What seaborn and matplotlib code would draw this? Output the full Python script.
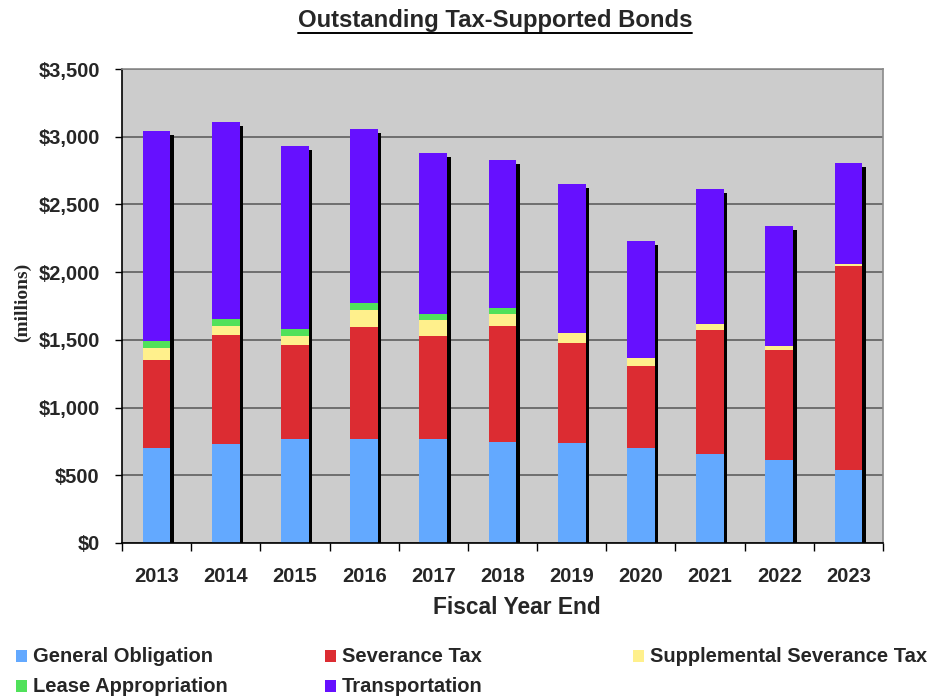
import numpy as np
import pandas as pd
import matplotlib
matplotlib.use("Agg")
import matplotlib.pyplot as plt
import seaborn as sns
from matplotlib.patches import Rectangle
from matplotlib.lines import Line2D
from matplotlib.ticker import FuncFormatter, MultipleLocator, FixedLocator
from matplotlib.transforms import ScaledTranslation

# ---------------- data ($ millions) ----------------
years = ['2013', '2014', '2015', '2016', '2017', '2018', '2019', '2020', '2021', '2022', '2023']
general_obligation = [699, 729, 766, 766, 768, 748, 741, 704, 655, 613, 541]
severance_tax = [654, 805, 696, 829, 763, 857, 736, 601, 920, 814, 1502]
supplemental_severance_tax = [84, 68, 64, 128, 113, 88, 76, 63, 40, 30, 17]
lease_appropriation = [57, 54, 54, 49, 49, 42, 0, 0, 0, 0, 0]
transportation = [1550, 1453, 1351, 1285, 1187, 1093, 1096, 864, 999, 881, 744]

series_names = ['General Obligation', 'Severance Tax', 'Supplemental Severance Tax',
                'Lease Appropriation', 'Transportation']
series_colors = ['#63A9FF', '#DC2C32', '#FFF08C', '#50E15A', '#6610FF']

df = pd.DataFrame({
    'year': years,
    'General Obligation': general_obligation,
    'Severance Tax': severance_tax,
    'Supplemental Severance Tax': supplemental_severance_tax,
    'Lease Appropriation': lease_appropriation,
    'Transportation': transportation,
})
cum = df[series_names].cumsum(axis=1)
totals = cum[series_names[-1]]

# ---------------- figure ----------------
sns.set_style("white")
FONT = ['Liberation Sans', 'DejaVu Sans']
plt.rcParams['font.family'] = FONT

W, H = 933, 696
fig = plt.figure(figsize=(W / 100, H / 100), dpi=100)
ax = fig.add_axes([122 / W, 1 - 543 / H, (883 - 122) / W, (543 - 69) / H])
ax.set_facecolor('#CCCCCC')

BW = 0.40
# shadow bars (total height, offset down-right)
sns.barplot(x=df['year'], y=totals, color='black', width=BW, saturation=1,
            linewidth=0, ax=ax, order=years)
shift = ScaledTranslation(3.5 / 100, -4 / 100, fig.dpi_scale_trans)
for p in list(ax.patches):
    p.set_transform(ax.transData + shift)

# stacked segments, drawn top-down so lower segments overlay
for name, col in reversed(list(zip(series_names, series_colors))):
    sns.barplot(x=df['year'], y=cum[name], color=col, width=BW, saturation=1,
                linewidth=0, ax=ax, order=years)

ax.set_xlim(-0.5, len(years) - 0.5)
ax.set_ylim(0, 3500)
ax.yaxis.set_major_locator(MultipleLocator(500))
ax.yaxis.set_major_formatter(FuncFormatter(lambda v, p: f"${v:,.0f}"))
ax.set_axisbelow(True)
ax.grid(axis='y', color='#5E5E5E', linewidth=1.2)
ax.grid(axis='x', visible=False)

for s in ['top', 'right']:
    ax.spines[s].set_color('#8A8A8A')
    ax.spines[s].set_linewidth(1.2)
ax.spines['left'].set_color('black')
ax.spines['left'].set_linewidth(1.2)
ax.spines['bottom'].set_color('black')
ax.spines['bottom'].set_linewidth(1.2)

ax.tick_params(axis='y', direction='out', length=5, width=1, color='black',
               left=True, pad=11, labelsize=14.5)
ax.tick_params(axis='x', which='major', length=0, pad=17, labelsize=14.5)
ax.xaxis.set_minor_locator(FixedLocator(np.arange(-0.5, len(years), 1.0)))
ax.tick_params(axis='x', which='minor', direction='out', length=6, width=1,
               color='black', bottom=True)
for lab in ax.get_xticklabels() + ax.get_yticklabels():
    lab.set_fontweight('bold')

ax.set_xlabel('')
ax.set_ylabel('')
fig.text(517 / W, 1 - 607 / H, 'Fiscal Year End', ha='center', va='center',
         fontsize=16.4, fontweight='bold')
fig.text(22 / W, 1 - 302 / H, '(millions)', rotation=90, ha='center', va='center',
         fontsize=14, fontweight='bold', family=['Liberation Serif', 'DejaVu Serif'])

# title with underline
title = fig.text(495 / W, 1 - 20 / H, 'Outstanding Tax-Supported Bonds', ha='center',
                 va='center', fontsize=17.2, fontweight='bold')

# legend (manual layout)
leg_pos = [(16, 656), (325, 656), (633, 656), (16, 686), (325, 686)]
for (lx, ly), name, col in zip(leg_pos, series_names, series_colors):
    fig.add_artist(Rectangle((lx / W, 1 - (ly + 6) / H), 11 / W, 12 / H,
                             transform=fig.transFigure, facecolor=col, edgecolor='none'))
    fig.text((lx + 17) / W, 1 - ly / H, name, ha='left', va='center',
             fontsize=14.5, fontweight='bold')

fig.canvas.draw()
r = fig.canvas.get_renderer()
bb = title.get_window_extent(r)
uy = (bb.y0 - 1) / H
fig.add_artist(Line2D([bb.x0 / W, bb.x1 / W], [uy, uy], transform=fig.transFigure,
                      color='black', linewidth=1.4))

fig.savefig('out.png', dpi=100)
